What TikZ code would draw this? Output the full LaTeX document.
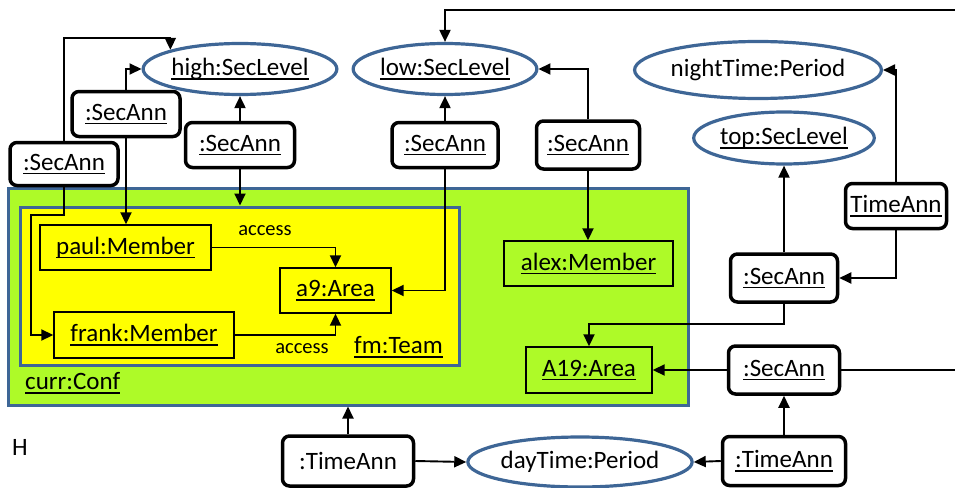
\documentclass[tikz,border=0pt]{standalone}
\usepackage{fontspec}
\setmainfont{Carlito}
\usetikzlibrary{arrows.meta,shapes.geometric}

\definecolor{frameblue}{RGB}{62,102,150}
\definecolor{confgreen}{RGB}{174,250,40}
\definecolor{teamyellow}{RGB}{255,255,0}

% underline at a fixed depth below the baseline
\newcommand\undl[1]{\setbox0=\hbox{#1}\rlap{\rule[-4pt]{\wd0}{1.5pt}}\box0}

\begin{document}
\begin{tikzpicture}[x=1pt,y=-1pt,
  every node/.style={inner sep=0pt, font=\fontsize{25}{30}\selectfont},
  levelell/.style={ellipse, draw=frameblue, line width=3.2pt, fill=white},
  annbox/.style={draw=black, line width=3.5pt, rounded corners=7pt, fill=white},
  objbox/.style={draw=black, line width=1.4pt},
  framebox/.style={draw=frameblue, line width=3pt},
  conn/.style={line width=1.9pt, -{Triangle[length=12pt,width=11pt]}},
  plain/.style={line width=1.9pt},
  smalltext/.style={font=\fontsize{20.5}{24}\selectfont}
]
\useasboundingbox (0,0) rectangle (955,487);

% configuration and team frames
\node[framebox, fill=confgreen, minimum width=680pt, minimum height=217pt] (conf) at (348,296.5) {};
\node[framebox, fill=teamyellow, minimum width=439pt, minimum height=158pt] (team) at (239.5,286) {};
\node[anchor=west] (confl) at (25,383) {\undl{curr:Conf}};
\node[anchor=west] (teaml) at (354,347) {\undl{fm:Team}};

% objects inside the configuration
\node[objbox, minimum width=171pt, minimum height=45pt] (paul) at (125.5,247.5) {\undl{paul:Member}};
\node[objbox, minimum width=111pt, minimum height=45pt] (a9) at (335.5,290.5) {\undl{a9:Area}};
\node[objbox, minimum width=180pt, minimum height=46pt] (frank) at (144,335) {\undl{frank:Member}};
\node[objbox, minimum width=169pt, minimum height=45pt] (alex) at (588.5,263.5) {\undl{alex:Member}};
\node[objbox, minimum width=126pt, minimum height=46pt] (a19) at (589,370) {\undl{A19:Area}};

% levels and periods
\node[levelell, minimum width=175pt, minimum height=51pt] (highE) at (240,69) {\undl{high:SecLevel}};
\node[levelell, minimum width=174pt, minimum height=51pt] (lowE) at (445,69) {\undl{low:SecLevel}};
\node[levelell, minimum width=215pt, minimum height=57pt] (nightE) at (758,70) {nightTime:Period};
\node[levelell, minimum width=160pt, minimum height=52pt] (topE) at (784,138) {\undl{top:SecLevel}};
\node[levelell, minimum width=195pt, minimum height=50pt] (dayE) at (580,462) {dayTime:Period};

% annotations
\node[annbox, minimum width=108pt, minimum height=45pt] (sA) at (126,114) {\undl{:SecAnn}};
\node[annbox, minimum width=108pt, minimum height=43pt] (sB) at (64,164) {\undl{:SecAnn}};
\node[annbox, minimum width=109pt, minimum height=45pt] (sC) at (240,145) {\undl{:SecAnn}};
\node[annbox, minimum width=106pt, minimum height=45pt] (sD) at (445,145) {\undl{:SecAnn}};
\node[annbox, minimum width=103pt, minimum height=48pt] (sE) at (588,145) {\undl{:SecAnn}};
\node[annbox, minimum width=101pt, minimum height=45pt] (tF) at (896,206) {\undl{TimeAnn}};
\node[annbox, minimum width=107pt, minimum height=48pt] (sG) at (784,278) {\undl{:SecAnn}};
\node[annbox, minimum width=111pt, minimum height=48pt] (sH) at (784,370) {\undl{:SecAnn}};
\node[annbox, minimum width=123pt, minimum height=49pt] (tI) at (784,461) {\undl{:TimeAnn}};
\node[annbox, minimum width=131pt, minimum height=50pt] (tJ) at (348,461) {:TimeAnn};

\node[anchor=west] (hlabel) at (12,447) {H};

% helper points for bends and open ends
\coordinate (yB) at (0,38);
\coordinate (bendB) at (31,215);
\coordinate (bendG) at (589,324);
\coordinate (edgeR) at (955,370);
\coordinate (edgeT) at (955,10);

% connectors
\draw[conn] (sB.north) -- (sB.north |- yB) -| (highE.north west);
\draw[conn] (sB.south) |- (bendB) |- (frank.west);
\draw[conn] (sA.north) |- (highE.west);
\draw[conn] (sA.south) -- (sA.south |- paul.north);
\draw[conn] (sC.north) -- (highE.south);
\draw[conn] (sC.south) -- (sC.south |- team.north);
\draw[conn] (sD.north) -- (lowE.south);
\draw[conn] (sD.south) |- (a9.east);
\draw[conn] (sE.north) |- (lowE.east);
\draw[conn] (sE.south) -- (sE.south |- alex.north);
\draw[conn] (tF.north) |- (nightE.east);
\draw[conn] (tF.south) |- (sG.east);
\draw[conn] (sG.north) -- (topE.south);
\draw[conn] (sG.south) |- (bendG) -| (a19.north);
\draw[conn] (sH.west) -- (a19.east);
\draw[plain] (sH.east) -- (edgeR);
\draw[conn] (edgeT) -| (lowE.north);
\draw[conn] (tI.north) -- (sH.south);
\draw[conn] (tI.west) -- (dayE.east);
\draw[conn] (tJ.north) -- (tJ.north |- conf.south);
\draw[conn] (tJ.east) -- (dayE.west);
\draw[conn] (paul.east) -| (a9.north);
\draw[conn] (frank.east) -| (a9.south);

% association labels
\node[smalltext] (acc1) at (265,231) {access};
\node[smalltext] (acc2) at (302,349) {access};
\end{tikzpicture}
\end{document}
